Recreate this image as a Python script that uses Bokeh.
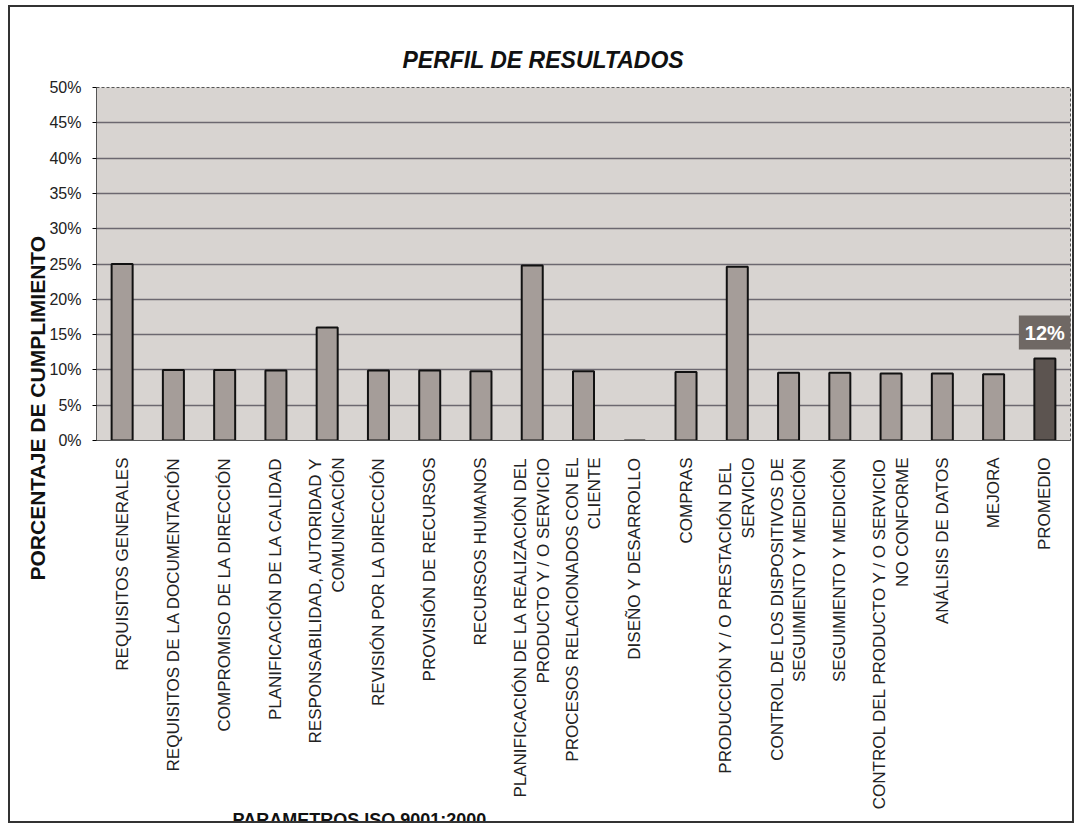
from bokeh.plotting import figure
from bokeh.models import ColumnDataSource, Label, Title, FixedTicker, PrintfTickFormatter
from bokeh.embed import file_html
from bokeh.resources import INLINE
import math

categories = [
    "REQUISITOS GENERALES",
    "REQUISITOS DE LA DOCUMENTACIÓN",
    "COMPROMISO DE LA DIRECCIÓN",
    "PLANIFICACIÓN DE LA CALIDAD",
    "RESPONSABILIDAD, AUTORIDAD Y\nCOMUNICACIÓN",
    "REVISIÓN POR LA DIRECCIÓN",
    "PROVISIÓN DE RECURSOS",
    "RECURSOS HUMANOS",
    "PLANIFICACIÓN DE LA REALIZACIÓN DEL\nPRODUCTO Y / O SERVICIO",
    "PROCESOS RELACIONADOS CON EL\nCLIENTE",
    "DISEÑO Y DESARROLLO",
    "COMPRAS",
    "PRODUCCIÓN Y / O  PRESTACIÓN DEL\nSERVICIO",
    "CONTROL DE LOS DISPOSITIVOS DE\nSEGUIMIENTO Y MEDICIÓN",
    "SEGUIMIENTO Y MEDICIÓN",
    "CONTROL DEL PRODUCTO Y / O SERVICIO\nNO CONFORME",
    "ANÁLISIS DE DATOS",
    "MEJORA",
    "PROMEDIO",
]
values = [25.0, 10.0, 10.0, 9.9, 16.0, 9.9, 9.9, 9.8, 24.8, 9.8, 0.0, 9.7,
          24.6, 9.6, 9.6, 9.5, 9.5, 9.4, 11.6]
y_ticks = [0, 5, 10, 15, 20, 25, 30, 35, 40, 45, 50]

title_text = "PERFIL DE RESULTADOS"
x_title = "PARAMETROS  ISO 9001:2000"
y_title = "PORCENTAJE DE CUMPLIMIENTO"

FONT = "Liberation Sans"
W, H = 1066, 818

# approximate Arial advance widths (1/1000 em) to centre the 2nd line of
# two-line category labels under the first one
_AW = {" ": 278, "A": 667, "B": 667, "C": 722, "D": 722, "E": 667, "F": 611,
       "G": 778, "H": 722, "I": 278, "J": 500, "K": 667, "L": 556, "M": 833,
       "N": 722, "O": 778, "P": 667, "Q": 778, "R": 722, "S": 667, "T": 611,
       "U": 722, "V": 667, "W": 944, "X": 667, "Y": 667, "Z": 611, "Á": 667,
       "É": 667, "Í": 278, "Ó": 778, "Ñ": 722, ",": 278, "/": 278}


def _w(s):
    return sum(_AW.get(c, 667) for c in s)


def centred(label):
    if "\n" not in label:
        return label
    a, b = label.split("\n")
    n = max(0, round((_w(a) - _w(b)) / 2 / 278))
    return a + "\n" + b + "\u00a0" * n


bar_fill = ["#a59d99"] * (len(categories) - 1) + ["#5c5450"]
src = ColumnDataSource(dict(cat=categories, val=values, color=bar_fill))

p = figure(x_range=categories, y_range=(0, 50), width=W, height=H,
           output_backend="svg", toolbar_location=None,
           min_border_left=86, min_border_right=6, min_border_top=80,
           min_border_bottom=385)
p.styles = {"border": "2px solid #333333", "margin": "5px 0 0 8px"}

p.title.text = title_text
p.title.text_font = FONT
p.title.text_font_size = "23px"
p.title.text_font_style = "bold italic"
p.title.align = "left"
p.title.offset = 306
p.title.standoff = 30
p.title.text_color = "#111111"

p.background_fill_color = "#d8d4d1"
p.border_fill_color = "white"
p.outline_line_color = "#555555"
p.outline_line_dash = "3 2"

p.vbar(x="cat", top="val", width=0.41, source=src, fill_color="color",
       line_color="#111111", line_width=2)

p.xgrid.grid_line_color = None
p.ygrid.grid_line_color = "#6c6870"
p.ygrid.grid_line_width = 1.5

p.yaxis.ticker = FixedTicker(ticks=y_ticks)
p.yaxis.formatter = PrintfTickFormatter(format="%d%%")
p.yaxis.major_label_text_font = FONT
p.yaxis.major_label_text_font_size = "16px"
p.yaxis.major_label_text_color = "#222222"
p.yaxis.major_tick_in = 0
p.yaxis.major_tick_out = 4
p.yaxis.minor_tick_line_color = None
p.yaxis.axis_line_color = "#555555"
p.yaxis.major_label_standoff = 11

p.xaxis.major_label_orientation = math.pi / 2
p.xaxis.major_label_overrides = {c: centred(c) for c in categories if "\n" in c}
p.xaxis.major_label_text_font = FONT
p.xaxis.major_label_text_font_size = "17px"
p.xaxis.major_label_text_color = "#222222"
p.xaxis.major_label_standoff = 11
p.xaxis.major_tick_line_color = None
p.xaxis.axis_line_color = "#555555"

# average value tag (synthetic coordinate of the last factor's centre)
p.add_layout(Label(x=len(categories) - 0.5, y=values[-1], y_offset=9,
                   text="%d%%" % round(values[-1]),
                   text_align="center", text_baseline="bottom",
                   text_font=FONT, text_font_size="20px", text_font_style="bold",
                   text_color="white", background_fill_color="#6f6864",
                   padding=6))

# axis titles placed as in the original (outside the frame)
p.add_layout(Title(text=y_title, align="left", offset=-140, standoff=-4,
                   text_font=FONT, text_font_size="21px", text_font_style="bold",
                   text_color="#111111"), "left")
p.add_layout(Title(text=x_title, align="left", offset=136, standoff=-10,
                   text_font=FONT, text_font_size="18px", text_font_style="bold",
                   text_color="#111111"), "below")

open("out.html", "w").write(file_html(p, INLINE))
